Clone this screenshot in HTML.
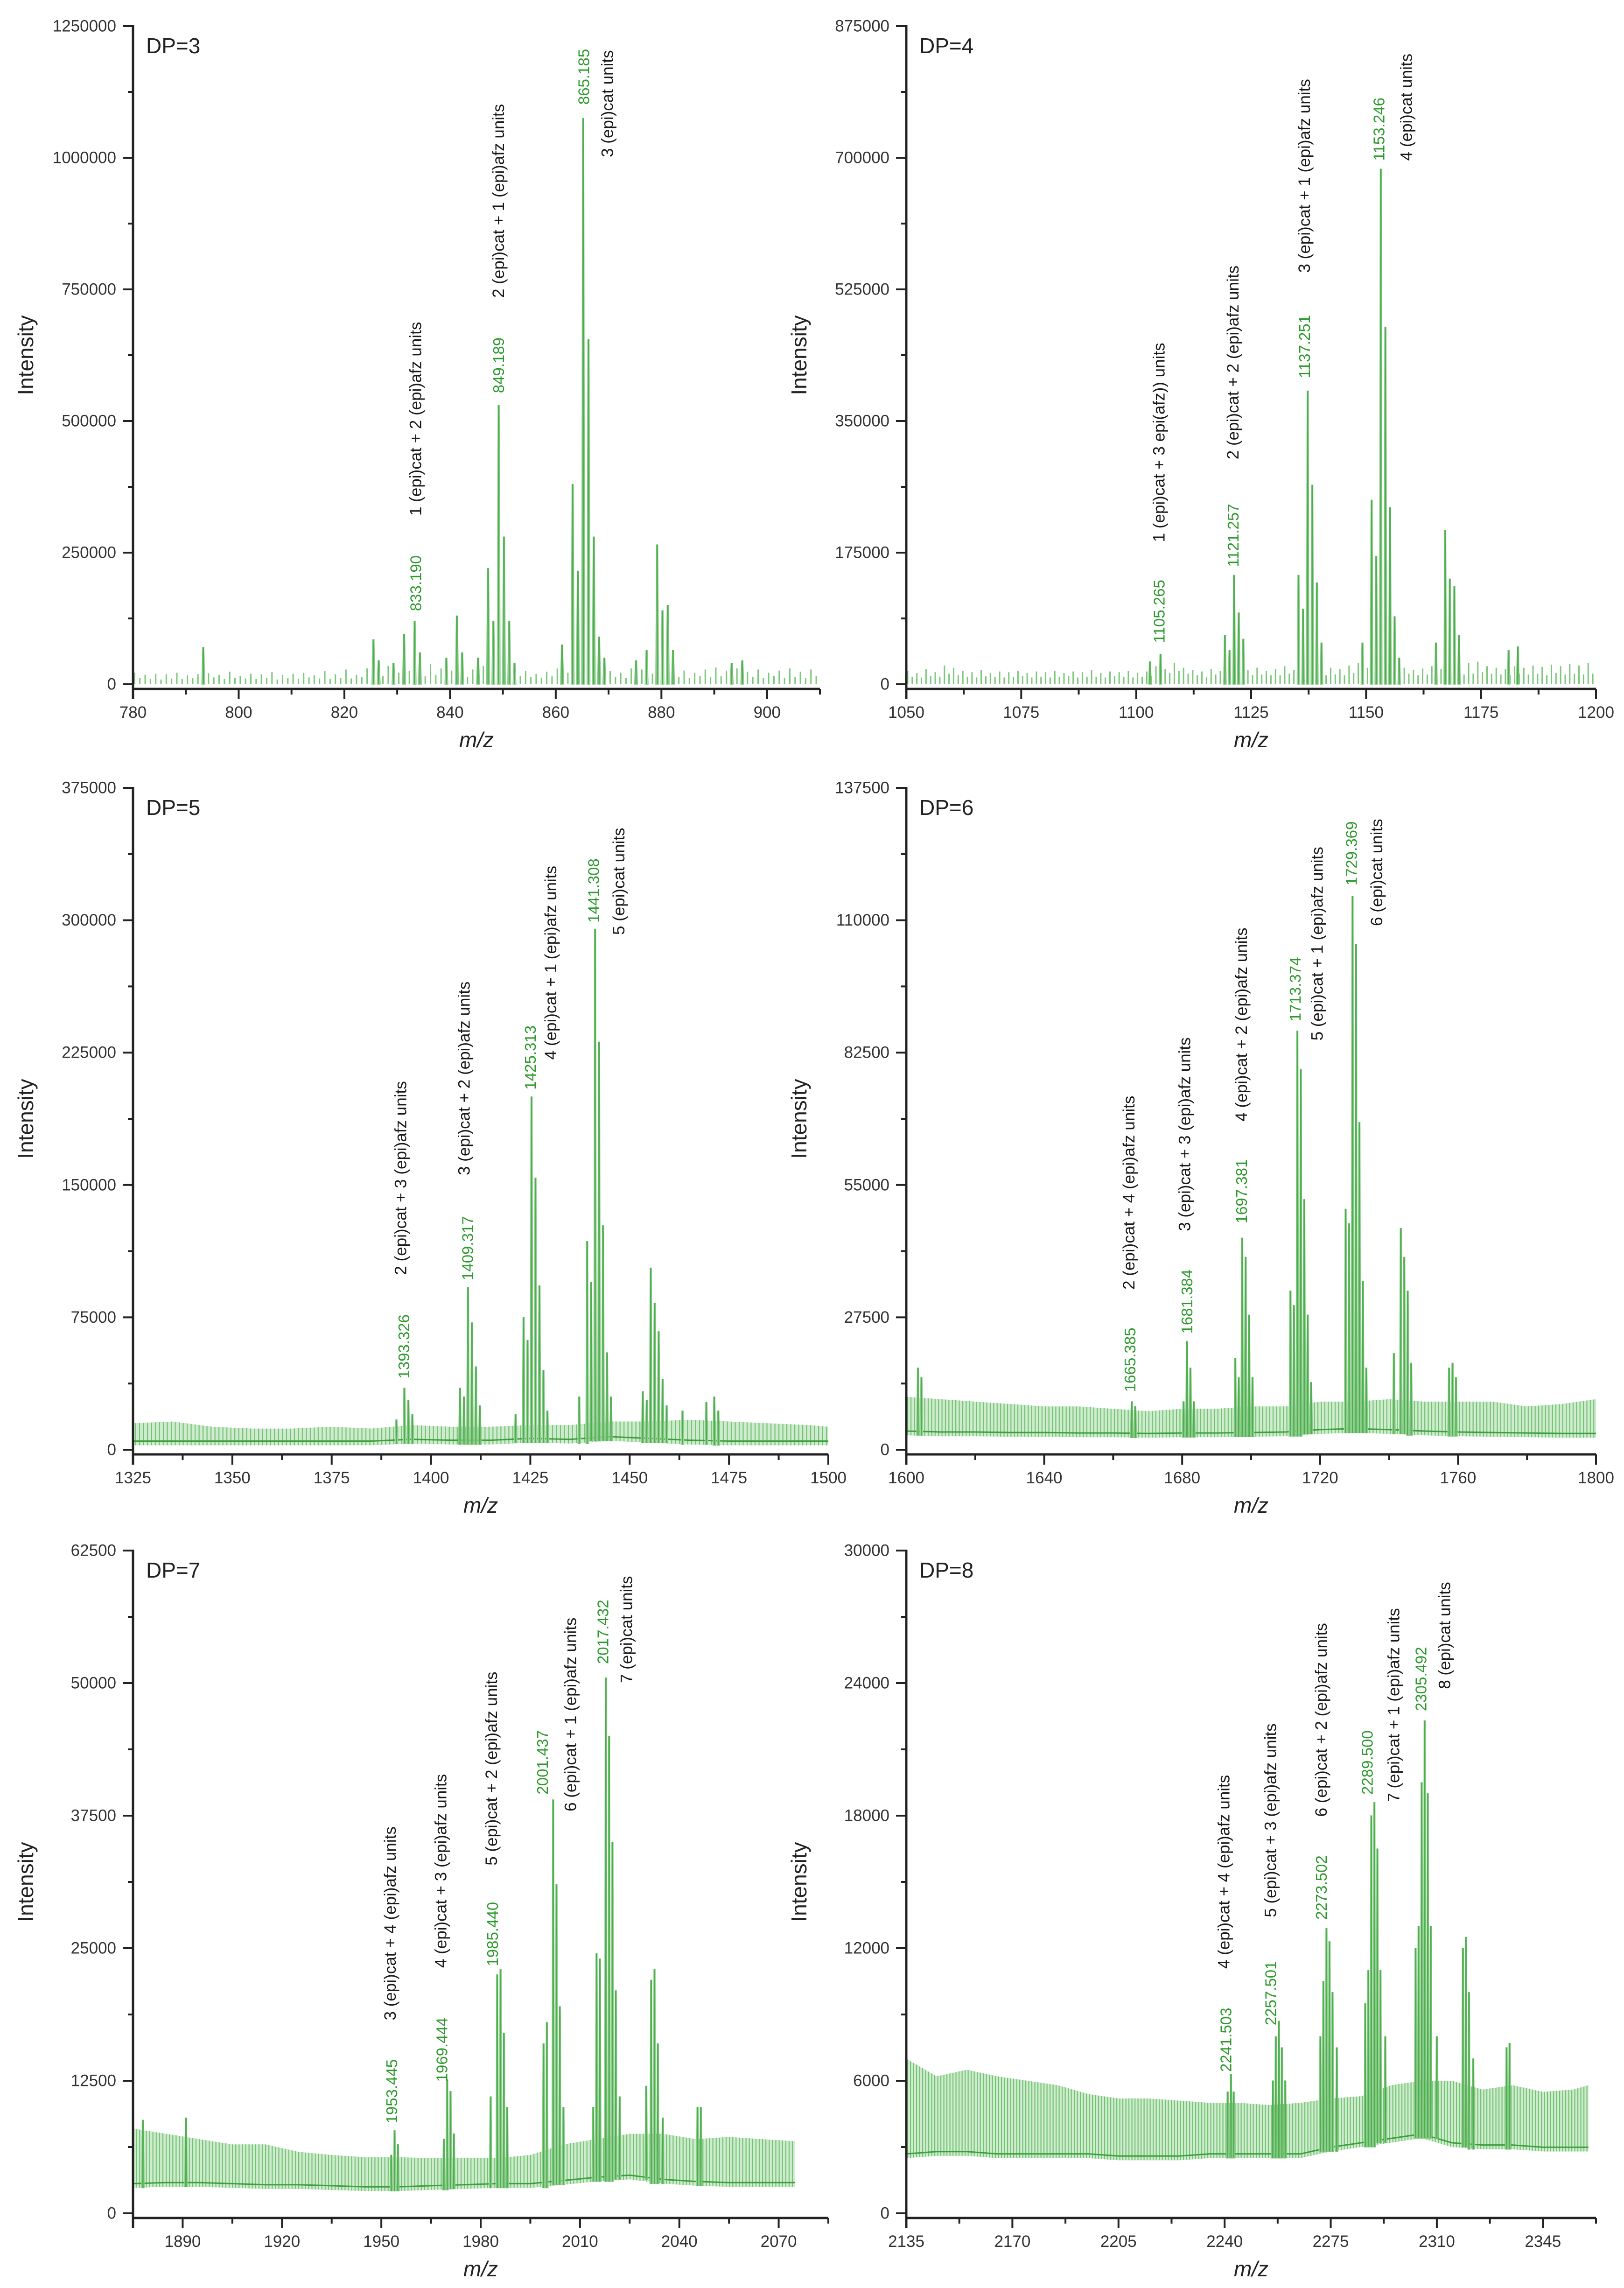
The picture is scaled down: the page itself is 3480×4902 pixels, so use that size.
<!DOCTYPE html>
<html><head><meta charset="utf-8"><style>
html,body{margin:0;padding:0;background:#fff;}
svg{display:block;}
text{font-family:"Liberation Sans",Arial,sans-serif;}
</style></head>
<body>
<svg id="fig" width="3480" height="4902" viewBox="0 0 3480 4902" xmlns="http://www.w3.org/2000/svg">
<rect x="0" y="0" width="3480" height="4902" fill="#fff"/>
</svg>
<script>
// ---------- DATA ----------
// Panel DP=3
const p1Peaks = [[793.3,70000],[825.5,85000],[826.5,45000],[829.3,40000],[831.3,95000],[833.3,120000],[834.3,60000],[839.3,50000],[841.3,130000],[842.3,60000],[845.3,50000],[847.2,220000],[848.2,120000],[849.2,530000],[850.2,280000],[851.2,120000],[852.2,40000],[861.2,75000],[863.2,380000],[864.2,215000],[865.2,1075000],[866.2,655000],[867.2,280000],[868.2,90000],[869.2,50000],[875.2,45000],[877.2,65000],[879.2,265000],[880.2,140000],[881.2,150000],[882.2,65000],[893.3,40000],[895.3,45000]];
const p1Noise = [22,12,18,10,20,9,19,11,22,10,17,12,19,9,21,13,18,10,24,12,16,11,20,10,19,12,23,9,18,12,20,10,22,13,17,11,25,10,19,12,28,11,18,14,30,12,20,16,35,13,22,14,25,12,30,15,38,18,30,22,26,15,32,14,28,20,35,16,40,22,30,18,28,15,25,14,20,12,24,15,30,16,22,18,26,14,38,20,32,18,25,14,22,12,30,16,28,14,20,12,24,18,30,14,26,12,22,16,28,14,32,15,26,12,30,18,24,14,28,12,22,16,26,12,30,14,24,12,28,16,26];
const p1NoiseStart = 780;
const p1YTicks = [0,250000,500000,750000,1000000,1250000];
const p1XTicks = [780,800,820,840,860,880,900];
const p1Labels = [["833.190",833.5,139000,"g"],["1 (epi)cat + 2 (epi)afz units",833.5,320000,"k"],["849.189",849.2,553000,"g"],["2 (epi)cat + 1 (epi)afz units",849.2,734000,"k"],["865.185",865.3,1101000,"g"],["3 (epi)cat units",869.8,1001000,"k"]];

// Panel DP=4
const p2Peaks = [[1103,30000],[1105.3,40000],[1119.3,65000],[1120.3,45000],[1121.3,145000],[1122.3,95000],[1123.3,60000],[1135.3,145000],[1136.3,100000],[1137.3,390000],[1138.3,265000],[1139.3,135000],[1140.3,55000],[1149.2,55000],[1151.2,245000],[1152.2,170000],[1153.2,685000],[1154.2,475000],[1155.2,235000],[1156.2,90000],[1157.2,35000],[1165.2,55000],[1167.2,205000],[1168.2,140000],[1169.2,130000],[1170.2,65000],[1181,45000],[1183,50000]];
const p2Noise = [18,10,15,9,20,11,16,10,25,14,22,12,18,10,16,9,19,11,15,10,17,9,16,10,18,11,15,9,17,10,16,9,18,10,15,11,17,9,16,10,19,10,15,9,17,11,16,10,18,9,15,10,17,11,24,12,20,15,28,18,22,14,19,12,17,10,20,13,18,11,22,14,25,15,19,12,22,13,18,12,20,12,24,14,19,13,21,12,26,14,18,12,22,13,20,12,25,15,28,16,22,14,24,13,20,12,18,11,22,14,19,12,21,13,24,14,20,12,26,15,22,13,28,14,30,16,24,14,22,13,20,12,24,14,22,13,25,14,23,12,26,15,24,13,27,14,25,13,28,14,24];
const p2NoiseStart = 1050;
const p2YTicks = [0,175000,350000,525000,700000,875000];
const p2XTicks = [1050,1075,1100,1125,1150,1175,1200];
const p2Labels = [["1105.265",1105,55000,"g"],["1 (epi)cat + 3 epi(afz)) units",1105,189000,"k"],["1121.257",1121.1,156000,"g"],["2 (epi)cat + 2 (epi)afz units",1121.1,299000,"k"],["1137.251",1136.6,407000,"g"],["3 (epi)cat + 1 (epi)afz units",1136.6,547000,"k"],["1153.246",1152.8,696000,"g"],["4 (epi)cat units",1158.8,696000,"k"]];

// Panel DP=5
const p3Peaks = [[1391.3,17000],[1393.3,35000],[1394.3,28000],[1395.3,20000],[1407.3,35000],[1408.3,30000],[1409.3,92000],[1410.3,72000],[1411.3,47000],[1412.3,25000],[1421.3,20000],[1423.3,75000],[1424.3,62000],[1425.3,200000],[1426.3,154000],[1427.3,93000],[1428.3,45000],[1429.3,22000],[1437.3,30000],[1439.3,118000],[1440.3,95000],[1441.3,295000],[1442.3,231000],[1443.3,127000],[1444.3,55000],[1445.3,30000],[1453.3,33000],[1454.3,28000],[1455.3,103000],[1456.3,83000],[1457.3,67000],[1458.3,40000],[1459.3,25000],[1463.3,22000],[1469.3,27000],[1471.3,30000],[1472.3,22000]];
const p3EnvMz = [1325,1335,1345,1355,1365,1375,1385,1395,1405,1415,1425,1435,1445,1455,1465,1475,1485,1495,1500];
const p3EnvHi = [15000,16000,13000,12000,12000,13000,12000,14000,13000,13000,14000,14000,16000,16000,17000,16000,15000,14000,13000];
const p3EnvLo = [2500,2500,2500,2500,2500,2500,2500,3500,3000,3000,4000,3500,5000,4000,3000,2500,2500,2500,2500];
const p3YTicks = [0,75000,150000,225000,300000,375000];
const p3XTicks = [1325,1350,1375,1400,1425,1450,1475,1500];
const p3Labels = [["1393.326",1393.2,40300,"g"],["2 (epi)cat + 3 (epi)afz units",1392.4,99000,"k"],["1409.317",1409.2,96000,"g"],["3 (epi)cat + 2 (epi)afz units",1408.4,155500,"k"],["1425.313",1425,204000,"g"],["4 (epi)cat + 1 (epi)afz units",1430.2,221000,"k"],["1441.308",1440.9,298600,"g"],["5 (epi)cat units",1447.3,291700,"k"]];

// Panel DP=6
const p4Peaks = [[1603.4,17000],[1604.4,15000],[1665.4,10000],[1666.4,9000],[1680.4,10000],[1681.4,22500],[1682.4,17000],[1683.4,10000],[1695.4,19000],[1696.4,15000],[1697.4,44000],[1698.4,40000],[1699.4,28000],[1700.4,15000],[1711.4,33000],[1712.4,30000],[1713.4,87000],[1714.4,79000],[1715.4,52000],[1716.4,28000],[1717.4,14000],[1727.4,50000],[1728.4,47000],[1729.4,115000],[1730.4,105000],[1731.4,68000],[1732.4,35000],[1733.4,17000],[1741.4,20000],[1743.4,46000],[1744.4,40000],[1745.4,33000],[1746.4,18000],[1757.4,17000],[1758.4,18000],[1759.4,15000]];
const p4EnvMz = [1600,1610,1620,1630,1640,1650,1660,1670,1680,1690,1700,1710,1720,1730,1740,1750,1760,1770,1780,1790,1800];
const p4EnvHi = [11000,10500,10000,9500,9000,9000,8500,8000,8500,8500,9000,9000,10000,10000,10500,10000,10000,10000,9000,9500,10500];
const p4EnvLo = [3000,2800,2800,2700,2700,2600,2600,2500,2600,2600,2700,2800,3300,3500,3300,3000,2800,2700,2600,2500,2500];
const p4YTicks = [0,27500,55000,82500,110000,137500];
const p4XTicks = [1600,1640,1680,1720,1760,1800];
const p4Labels = [["1665.385",1664.9,12000,"g"],["2 (epi)cat + 4 (epi)afz units",1664.6,33260,"k"],["1681.384",1681.4,24100,"g"],["3 (epi)cat + 3 (epi)afz units",1680.8,45400,"k"],["1697.381",1697.2,47000,"g"],["4 (epi)cat + 2 (epi)afz units",1697.2,68200,"k"],["1713.374",1712.8,89000,"g"],["5 (epi)cat + 1 (epi)afz units",1719.2,85000,"k"],["1729.369",1729.1,117200,"g"],["6 (epi)cat units",1736.5,108800,"k"]];

// Panel DP=7
const p5Peaks = [[1878,8800],[1891,9000],[1953,5500],[1954,7800],[1955,6500],[1968.9,7000],[1969.9,12600],[1970.9,11500],[1971.9,7500],[1983,11000],[1985,22500],[1986,23000],[1987,17000],[1988,10000],[1999,16000],[2000,18000],[2001.9,39000],[2002.9,31000],[2003.9,19500],[2005,10000],[2014,10000],[2015,24500],[2016,24000],[2017.8,50500],[2018.8,45000],[2019.8,35000],[2020.8,21000],[2022,11000],[2030,12000],[2031.5,22000],[2032.5,23000],[2033.5,16000],[2035,9000],[2045.5,10000],[2046.5,10000]];
const p5EnvMz = [1875,1885,1895,1905,1915,1925,1935,1945,1955,1965,1975,1985,1995,2005,2015,2025,2035,2045,2055,2065,2075];
const p5EnvHi = [8000,7500,7000,6500,6500,5800,5500,5300,5300,5200,5200,5200,5500,6500,7000,7500,7500,7000,7200,7000,6800];
const p5EnvLo = [2400,2500,2500,2400,2300,2300,2200,2100,2100,2200,2300,2400,2400,2700,3000,3200,2800,2600,2500,2500,2500];
const p5YTicks = [0,12500,25000,37500,50000,62500];
const p5XTicks = [1890,1920,1950,1980,2010,2040,2070];
const p5Labels = [["1953.445",1953.2,8470,"g"],["3 (epi)cat + 4 (epi)afz units",1952.7,18200,"k"],["1969.444",1968.3,12400,"g"],["4 (epi)cat + 3 (epi)afz units",1968,23150,"k"],["1985.440",1983.6,23300,"g"],["5 (epi)cat + 2 (epi)afz units",1983.3,32800,"k"],["2001.437",1998.7,39500,"g"],["6 (epi)cat + 1 (epi)afz units",2007.2,37900,"k"],["2017.432",2016.9,51800,"g"],["7 (epi)cat units",2024.1,50000,"k"]];

// Panel DP=8
const p6Peaks = [[2241,5500],[2242.1,6300],[2243,5500],[2255.9,6000],[2256.9,8000],[2257.9,8700],[2258.9,7500],[2260,6000],[2271.6,8000],[2272.6,10500],[2273.6,12900],[2274.6,12300],[2275.6,10000],[2277,7500],[2286.4,9500],[2287.4,11000],[2288.4,18000],[2289.4,18600],[2290.4,16500],[2291.4,11000],[2293,8000],[2303,12000],[2304,13000],[2305,19500],[2306,22300],[2307,19000],[2308,13000],[2310,8000],[2318.6,12000],[2319.6,12500],[2320.6,10000],[2322,7000],[2333,7500],[2334,7700]];
const p6EnvMz = [2135,2145,2155,2165,2175,2185,2195,2205,2215,2225,2235,2245,2255,2265,2275,2285,2295,2305,2315,2325,2335,2345,2355,2360];
const p6EnvHi = [7000,6200,6500,6200,6000,5800,5400,5200,5200,5100,5000,5000,4900,5000,5200,5300,5800,6000,6000,5600,5800,5500,5600,5800];
const p6EnvLo = [2500,2600,2600,2500,2500,2500,2500,2400,2400,2400,2500,2500,2500,2500,2800,3000,3200,3400,3000,2900,2900,2800,2800,2800];
const p6YTicks = [0,6000,12000,18000,24000,30000];
const p6XTicks = [2135,2170,2205,2240,2275,2310,2345];
const p6Labels = [["2241.503",2240.4,6400,"g"],["4 (epi)cat + 4 (epi)afz units",2239.8,11070,"k"],["2257.501",2255.2,8510,"g"],["5 (epi)cat + 3 (epi)afz units",2255.2,13400,"k"],["2273.502",2271.9,13290,"g"],["6 (epi)cat + 2 (epi)afz units",2271.9,17950,"k"],["2289.500",2287.1,18950,"g"],["7 (epi)cat + 1 (epi)afz units",2295.9,18620,"k"],["2305.492",2304.8,22730,"g"],["8 (epi)cat units",2312.6,23730,"k"]];

// ---------- RENDER ----------
const NS = "http://www.w3.org/2000/svg";
const svg = document.getElementById("fig");
function mk(tag, attrs, parent){
  const e = document.createElementNS(NS, tag);
  for (const k in attrs) e.setAttribute(k, attrs[k]);
  (parent||svg).appendChild(e);
  return e;
}
const defs = mk("defs", {});

const panels = [
  {id:"dp3",title:"DP=3",x0:285,x1:1757,top:56,zero:1466,xmin:780,xmax:910,ymax:1250000,yt:p1YTicks,xt:p1XTicks,peaks:p1Peaks,noise:p1Noise,noiseStart:p1NoiseStart,labels:p1Labels,pw:0.3},
  {id:"dp4",title:"DP=4",x0:1942,x1:3420,top:56,zero:1466,xmin:1050,xmax:1200,ymax:875000,yt:p2YTicks,xt:p2XTicks,peaks:p2Peaks,noise:p2Noise,noiseStart:p2NoiseStart,labels:p2Labels,pw:0.3},
  {id:"dp5",title:"DP=5",x0:285,x1:1775,top:1688,zero:3106,xmin:1325,xmax:1500,ymax:375000,yt:p3YTicks,xt:p3XTicks,peaks:p3Peaks,envMz:p3EnvMz,envHi:p3EnvHi,envLo:p3EnvLo,labels:p3Labels,pw:0.35},
  {id:"dp6",title:"DP=6",x0:1942,x1:3420,top:1688,zero:3106,xmin:1600,xmax:1800,ymax:137500,yt:p4YTicks,xt:p4XTicks,peaks:p4Peaks,envMz:p4EnvMz,envHi:p4EnvHi,envLo:p4EnvLo,labels:p4Labels,pw:0.4},
  {id:"dp7",title:"DP=7",x0:285,x1:1775,top:3322,zero:4742,xmin:1875,xmax:2085,ymax:62500,yt:p5YTicks,xt:p5XTicks,peaks:p5Peaks,envMz:p5EnvMz,envHi:p5EnvHi,envLo:p5EnvLo,labels:p5Labels,pw:0.4},
  {id:"dp8",title:"DP=8",x0:1942,x1:3420,top:3322,zero:4742,xmin:2135,xmax:2362.5,ymax:30000,yt:p6YTicks,xt:p6XTicks,peaks:p6Peaks,envMz:p6EnvMz,envHi:p6EnvHi,envLo:p6EnvLo,labels:p6Labels,pw:0.4}
];

panels.forEach(function(P){
  const xs = function(v){ return P.x0 + (v - P.xmin) / (P.xmax - P.xmin) * (P.x1 - P.x0); };
  const ys = function(v){ return P.zero - v / P.ymax * (P.zero - P.top); };
  const g = mk("g", {});
  
  
  const axisY = P.zero + 10;

  if (P.envMz) {
    const pat = mk("pattern", {id:"pat-"+P.id, patternUnits:"userSpaceOnUse", width:(xs(P.xmin+1)-xs(P.xmin)).toFixed(2), height:"20"}, defs);
    mk("rect", {x:0,y:0,width:"100%",height:20,fill:"#cfeccf"}, pat);
    mk("rect", {x:0,y:0,width:2.2,height:20,fill:"#74c274"}, pat);
    let pts = [];
    for (let i=0;i<P.envMz.length;i++) pts.push(xs(P.envMz[i]).toFixed(1)+","+ys(P.envHi[i]).toFixed(1));
    for (let i=P.envMz.length-1;i>=0;i--) pts.push(xs(P.envMz[i]).toFixed(1)+","+ys(P.envLo[i]).toFixed(1));
    const band = mk("polygon", {points:pts.join(" "), fill:"url(#pat-"+P.id+")", stroke:"none"}, g);
    
    
    let lpts = [];
    for (let i=0;i<P.envMz.length;i++) lpts.push(xs(P.envMz[i]).toFixed(1)+","+ys(P.envLo[i]+400*P.ymax/62500).toFixed(1));
    const base = mk("polyline", {points:lpts.join(" "), fill:"none", stroke:"#3d9e3d", "stroke-width":3}, g);
    
    
  }
  if (P.noise) {
    for (let i=0;i<P.noise.length;i++){
      const m = P.noiseStart + i + 0.3;
      if (m > P.xmax) break;
      const s = mk("line", {x1:xs(m), x2:xs(m), y1:ys(0), y2:ys(P.noise[i]*1000), stroke:"#7cc77c", "stroke-width":3}, g);
      
      
    }
  }
  P.peaks.forEach(function(pk){
    let baseV = 0;
    if (P.envMz) {
      let bi = 0;
      for (let i=0;i<P.envMz.length;i++) if (Math.abs(P.envMz[i]-pk[0]) < Math.abs(P.envMz[bi]-pk[0])) bi = i;
      baseV = P.envLo[bi];
    }
    const xl = xs(pk[0]-P.pw), xr = xs(pk[0]+P.pw), xc = xs(pk[0]);
    const pol = mk("polygon", {points: xl.toFixed(1)+","+ys(baseV).toFixed(1)+" "+(xc-1.5).toFixed(1)+","+ys(pk[1]).toFixed(1)+" "+(xc+1.5).toFixed(1)+","+ys(pk[1]).toFixed(1)+" "+xr.toFixed(1)+","+ys(baseV).toFixed(1), fill:"#b5e0b5", stroke:"#86ca86", "stroke-width":1.5}, g);
    
    
    const cl = mk("line", {x1:xc, x2:xc, y1:ys(baseV), y2:ys(pk[1]), stroke:"#4fae4f", "stroke-width":3}, g);
    
    
  });

  const ya = mk("line", {x1:P.x0, x2:P.x0, y1:P.top-2, y2:axisY+22, stroke:"#222", "stroke-width":5}, g);
  
  
  const xa = mk("line", {x1:P.x0, x2:P.x1, y1:axisY, y2:axisY, stroke:"#222", "stroke-width":5}, g);
  
  

  for (let i=0;i<P.yt.length;i++){
    const y = ys(P.yt[i]);
    const t = mk("line", {x1:P.x0-22, x2:P.x0, y1:y, y2:y, stroke:"#222", "stroke-width":4}, g);
    
    
    const lab = mk("text", {x:P.x0-36, y:y, "text-anchor":"end", "dominant-baseline":"central", "font-size":35, fill:"#333"}, g);
    lab.textContent = P.yt[i];
    
    
    if (i < P.yt.length-1) {
      const ym = ys((P.yt[i]+P.yt[i+1])/2);
      const mt = mk("line", {x1:P.x0-11, x2:P.x0, y1:ym, y2:ym, stroke:"#222", "stroke-width":4}, g);
      
      
    }
  }
  const xstep = P.xt[1]-P.xt[0];
  for (let i=0;i<P.xt.length;i++){
    const x = xs(P.xt[i]);
    const t = mk("line", {x1:x, x2:x, y1:axisY, y2:axisY+22, stroke:"#222", "stroke-width":4}, g);
    
    
    const lab = mk("text", {x:x, y:axisY+62, "text-anchor":"middle", "font-size":35, fill:"#333"}, g);
    lab.textContent = P.xt[i];
    
    
  }
  for (let v = P.xt[0]-xstep/2; v <= P.xmax; v += xstep){
    if (v < P.xmin) continue;
    const x = xs(v);
    const mt = mk("line", {x1:x, x2:x, y1:axisY, y2:axisY+12, stroke:"#222", "stroke-width":4}, g);
    
    
  }
  const xt = mk("text", {x:(P.x0+P.x1)/2, y:axisY+125, "text-anchor":"middle", "font-size":46, "font-style":"italic", fill:"#222"}, g);
  xt.textContent = "m/z";
  
  
  const yx = P.x0 - 230, yy = (P.top + P.zero)/2;
  const yt = mk("text", {x:yx, y:yy, "text-anchor":"middle", "dominant-baseline":"central", "font-size":46, fill:"#222", transform:"rotate(-90 "+yx+" "+yy+")"}, g);
  yt.textContent = "Intensity";
  
  
  const dt = mk("text", {x:P.x0+28, y:P.top+58, "font-size":46, fill:"#222"}, g);
  dt.textContent = P.title;
  
  
  P.labels.forEach(function(L){
    const x = xs(L[1]), y = ys(L[2]);
    const t = mk("text", {x:x, y:y, "text-anchor":"start", "dominant-baseline":"central", "font-size":L[3]==="g"?33:35, fill:L[3]==="g"?"#2e9a2e":"#1a1a1a", transform:"rotate(-90 "+x.toFixed(1)+" "+y.toFixed(1)+")"}, g);
    t.textContent = L[0];
    
    
  });
});
</script>
</body></html>
